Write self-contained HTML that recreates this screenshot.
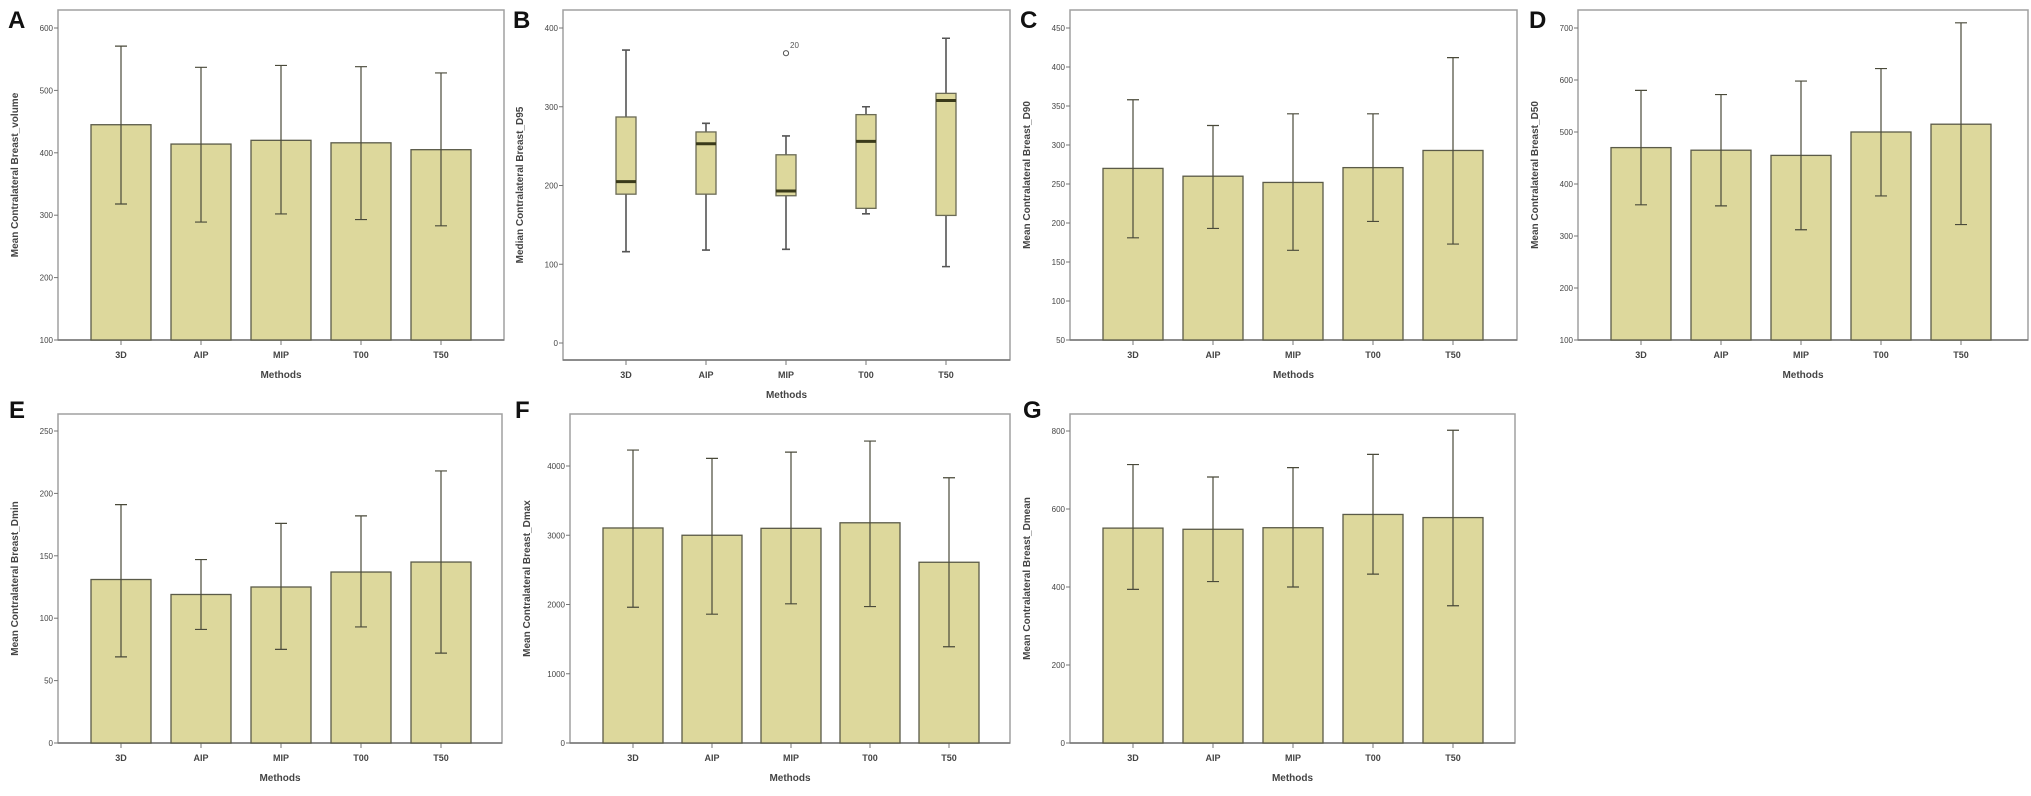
<!DOCTYPE html>
<html><head><meta charset="utf-8"><style>
html,body{margin:0;padding:0;background:#fff;}
svg{display:block;font-family:"Liberation Sans",sans-serif;}
</style></head><body>
<svg id="fig" width="2031" height="796" viewBox="0 0 2031 796" xmlns="http://www.w3.org/2000/svg"></svg>
<script>
const categories = ["3D","AIP","MIP","T00","T50"];
// A
const aMeans = [445,414,420,416,405];
const aHigh = [571,537,540,538,528];
const aLow = [318,289,302,293,283];
const aTicks = [100,200,300,400,500,600];
// C
const cMeans = [270,260,252,271,293];
const cHigh = [358,325,340,340,412];
const cLow = [181,193,165,202,173];
const cTicks = [50,100,150,200,250,300,350,400,450];
// D
const dMeans = [470,465,455,500,515];
const dHigh = [580,572,598,622,710];
const dLow = [360,358,312,377,322];
const dTicks = [100,200,300,400,500,600,700];
// E
const eMeans = [131,119,125,137,145];
const eHigh = [191,147,176,182,218];
const eLow = [69,91,75,93,72];
const eTicks = [0,50,100,150,200,250];
// F
const fMeans = [3105,3000,3100,3180,2610];
const fHigh = [4230,4110,4200,4360,3830];
const fLow = [1960,1860,2010,1970,1390];
const fTicks = [0,1000,2000,3000,4000];
// G
const gMeans = [551,548,552,586,578];
const gHigh = [714,682,706,740,802];
const gLow = [394,414,400,433,352];
const gTicks = [0,200,400,600,800];
// B boxplot
const bWhiskHigh = [372,279,263,300,387];
const bQ3 = [287,268,239,290,317];
const bMedian = [205,253,193,256,308];
const bQ1 = [189,189,187,171,162];
const bWhiskLow = [116,118,119,164,97];
const bOutlierCat = [2];
const bOutlierVal = [368];
const bOutlierLabel = ["20"];
const bTicks = [0,100,200,300,400];

const NS="http://www.w3.org/2000/svg";
const svg=document.getElementById('fig');
function mk(tag,attrs,parent,text){
  const e=document.createElementNS(NS,tag);
  for(const k in attrs) e.setAttribute(k,attrs[k]);
  if(text!==undefined) e.textContent=text;
  (parent||svg).appendChild(e);
  return e;
}
function panel(cfg){
  const g=mk('g',{});
  
  
  const L=cfg.left,R=cfg.right,T=cfg.top,B=cfg.bottom;
  const y=v=>cfg.y0px-(v-cfg.vmin)*(cfg.y0px-cfg.y1px)/(cfg.vmax-cfg.vmin);
  const x=i=>L+63+cfg.step*i;
  const fr=mk('rect',{x:L,y:T,width:R-L,height:B-T,fill:'none',stroke:'#a0a0a0','stroke-width':1.5},g);
  
  
  const lt=mk('text',{x:cfg.lx,y:cfg.ly,'font-size':24,'font-weight':'bold',fill:'#111'},g,cfg.letter);
  
  
  const ax=mk('line',{x1:L,y1:B,x2:R,y2:B,stroke:'#777','stroke-width':1.5},g);
  
  
  cfg.ticks.forEach(t=>{
    const ty=y(t);
    const tl=mk('line',{x1:L-4,y1:ty,x2:L,y2:ty,stroke:'#777','stroke-width':1},g);
    
    
    const tt=mk('text',{x:L-5,y:ty+3,'font-size':8,'text-anchor':'end',fill:'#444'},g,String(t));
    
    
  });
  const cy=(T+B)/2;
  const yt=mk('text',{x:L-40,y:cy,'font-size':10,'font-weight':'bold','text-anchor':'middle',fill:'#444',transform:`rotate(-90 ${L-40} ${cy})`},g,cfg.ytitle);
  
  
  categories.forEach((c,i)=>{
    const xl=mk('line',{x1:x(i),y1:B,x2:x(i),y2:B+5,stroke:'#777','stroke-width':1},g);
    
    
    const xt=mk('text',{x:x(i),y:B+18,'font-size':9,'font-weight':'bold','text-anchor':'middle',fill:'#444'},g,c);
    
    
  });
  const mt=mk('text',{x:(L+R)/2,y:B+38,'font-size':10,'font-weight':'bold','text-anchor':'middle',fill:'#444'},g,'Methods');
  
  
  return {g,x,y};
}
function barPanel(cfg,means,hi,lo){
  const p=panel(cfg);
  means.forEach((m,i)=>{
    const bw=60,by=p.y(m),base=cfg.bottom;
    const r=mk('rect',{x:p.x(i)-bw/2,y:by,width:bw,height:base-by,fill:'#ddd89c',stroke:'#5a5a48','stroke-width':1.3},p.g);
    
    
    const e=mk('path',{d:`M${p.x(i)} ${p.y(hi[i])}V${p.y(lo[i])}M${p.x(i)-6} ${p.y(hi[i])}H${p.x(i)+6}M${p.x(i)-6} ${p.y(lo[i])}H${p.x(i)+6}`,stroke:'#4a4a3a','stroke-width':1.2,fill:'none'},p.g);
    
    
  });
}
barPanel({letter:'A',left:58,right:504,top:10,bottom:340,step:80,vmin:100,vmax:600,y0px:340,y1px:28,ticks:aTicks,lx:8,ly:28,ytitle:'Mean Contralateral Breast_volume'},aMeans,aHigh,aLow);
barPanel({letter:'C',left:1070,right:1517,top:10,bottom:340,step:80,vmin:50,vmax:450,y0px:340,y1px:28,ticks:cTicks,lx:1020,ly:28,ytitle:'Mean Contralateral Breast_D90'},cMeans,cHigh,cLow);
barPanel({letter:'D',left:1578,right:2028,top:10,bottom:340,step:80,vmin:100,vmax:700,y0px:340,y1px:28,ticks:dTicks,lx:1529,ly:28,ytitle:'Mean Contralateral Breast_D50'},dMeans,dHigh,dLow);
barPanel({letter:'E',left:58,right:502,top:414,bottom:743,step:80,vmin:0,vmax:250,y0px:743,y1px:431,ticks:eTicks,lx:9,ly:418,ytitle:'Mean Contralateral Breast_Dmin'},eMeans,eHigh,eLow);
barPanel({letter:'F',left:570,right:1010,top:414,bottom:743,step:79,vmin:0,vmax:4000,y0px:743,y1px:466,ticks:fTicks,lx:515,ly:418,ytitle:'Mean Contralateral Breast_Dmax'},fMeans,fHigh,fLow);
barPanel({letter:'G',left:1070,right:1515,top:414,bottom:743,step:80,vmin:0,vmax:800,y0px:743,y1px:431,ticks:gTicks,lx:1023,ly:418,ytitle:'Mean Contralateral Breast_Dmean'},gMeans,gHigh,gLow);

// Box plot B
(function(){
  const cfg={letter:'B',left:563,right:1010,top:10,bottom:360,step:80,vmin:0,vmax:400,y0px:343,y1px:28,ticks:bTicks,lx:513,ly:28,ytitle:'Median Contralateral Breast_D95'};
  const p=panel(cfg);
  categories.forEach((c,i)=>{
    const cx=p.x(i),w=20;
    const wh=mk('path',{d:`M${cx} ${p.y(bWhiskHigh[i])}V${p.y(bQ3[i])}M${cx} ${p.y(bQ1[i])}V${p.y(bWhiskLow[i])}M${cx-4} ${p.y(bWhiskHigh[i])}H${cx+4}M${cx-4} ${p.y(bWhiskLow[i])}H${cx+4}`,stroke:'#555','stroke-width':1.6,fill:'none'},p.g);
    
    
    const bx=mk('rect',{x:cx-w/2,y:p.y(bQ3[i]),width:w,height:p.y(bQ1[i])-p.y(bQ3[i]),fill:'#ddd89c',stroke:'#6a6a55','stroke-width':1.3},p.g);
    
    
    const md=mk('line',{x1:cx-w/2,y1:p.y(bMedian[i]),x2:cx+w/2,y2:p.y(bMedian[i]),stroke:'#3a3a1a','stroke-width':3},p.g);
    
    
  });
  bOutlierCat.forEach((ci,k)=>{
    const ox=p.x(ci),oy=p.y(bOutlierVal[k]);
    const o=mk('circle',{cx:ox,cy:oy,r:2.6,fill:'none',stroke:'#555','stroke-width':1},p.g);
    
    
    const ol=mk('text',{x:ox+4,y:oy-5,'font-size':8,fill:'#555'},p.g,bOutlierLabel[k]);
    
    
  });
})();
</script>
</body></html>
